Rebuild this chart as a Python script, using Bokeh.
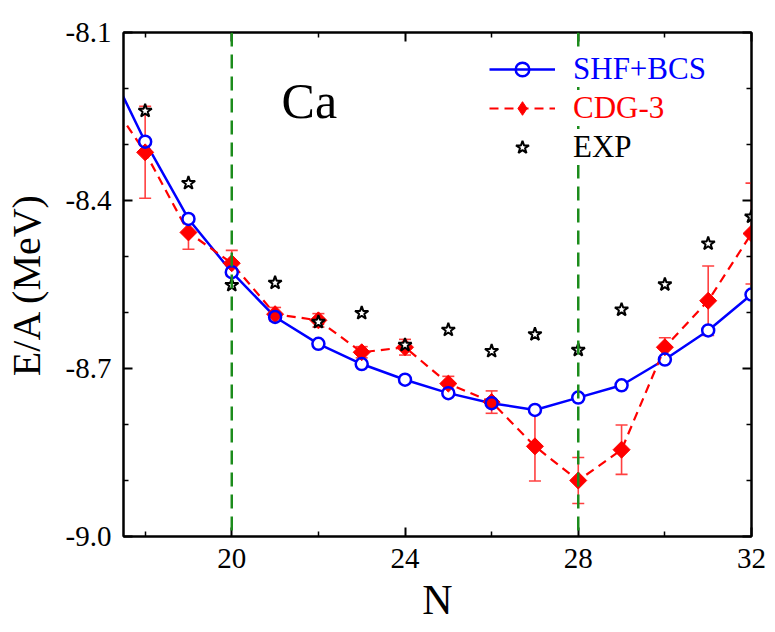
import math

from bokeh.plotting import figure
from bokeh.models import (Range1d, FixedTicker, PrintfTickFormatter, LinearAxis, Span,
                          Whisker, TeeHead, ColumnDataSource, Legend, LegendItem, Label)
from bokeh.embed import file_html
from bokeh.resources import INLINE

# Binding energy per nucleon of Ca isotopes versus neutron number N
n_calc = [17, 18, 19, 20, 21, 22, 23, 24, 25, 26, 27, 28, 29, 30, 31, 32]
shf_bcs = [-8.136, -8.295, -8.433, -8.528, -8.608, -8.656, -8.692, -8.720,
           -8.744, -8.762, -8.774, -8.752, -8.730, -8.684, -8.632, -8.568]
cdg3 = [-8.200, -8.314, -8.457, -8.512, -8.603, -8.614, -8.671, -8.662,
        -8.727, -8.760, -8.839, -8.900, -8.845, -8.662, -8.579, -8.459]
cdg3_err = [0.080, 0.082, 0.030, 0.023, 0.012, 0.012, 0.010, 0.014,
            0.013, 0.020, 0.062, 0.041, 0.044, 0.017, 0.062, 0.090]

n_exp = [18, 19, 20, 21, 22, 23, 24, 25, 26, 27, 28, 29, 30, 31, 32]
exp = [-8.240, -8.369, -8.551, -8.547, -8.617, -8.601, -8.658, -8.631,
       -8.669, -8.639, -8.667, -8.595, -8.550, -8.477, -8.429]

x_ticks = [20, 24, 28, 32]
x_minor = [18, 22, 26, 30]
y_ticks = [-9.0, -8.7, -8.4, -8.1]
y_minor = [-8.9, -8.8, -8.6, -8.5, -8.3, -8.2]
magic_n = [20, 28]

SERIF = "Liberation Serif"
BLUE = "#0000FF"
RED = "#FF0000"
ERR_RED = "#FF4040"
GREEN = "#1C8C1C"

p = figure(width=775, height=632, x_range=Range1d(17.5, 32), y_range=Range1d(-9.0, -8.1),
           output_backend="svg", toolbar_location=None,
           min_border_left=122, min_border_right=24, min_border_top=32, min_border_bottom=96)
p.xgrid.visible = False
p.ygrid.visible = False
p.outline_line_color = "black"
p.outline_line_width = 2
p.background_fill_color = "white"
p.border_fill_color = "white"

# mirrored axes on top and right carry ticks only
top_axis = LinearAxis()
right_axis = LinearAxis()
p.add_layout(top_axis, "above")
p.add_layout(right_axis, "right")

bottom_axis = p.below[0]
left_axis = p.left[0]

for ax in (bottom_axis, top_axis):
    ax.ticker = FixedTicker(ticks=x_ticks, minor_ticks=x_minor)
for ax in (left_axis, right_axis):
    ax.ticker = FixedTicker(ticks=y_ticks, minor_ticks=y_minor)
    ax.formatter = PrintfTickFormatter(format="%.1f")

for ax in (bottom_axis, top_axis, left_axis, right_axis):
    ax.axis_line_width = 2
    ax.axis_line_color = "black"
    ax.major_tick_in = 9
    ax.major_tick_out = 0
    ax.minor_tick_in = 5
    ax.minor_tick_out = 0
    ax.major_tick_line_width = 2
    ax.minor_tick_line_width = 1.5
    ax.major_label_text_font = SERIF
    ax.major_label_text_font_size = "29px"
    ax.major_label_text_color = "black"

for ax in (top_axis, right_axis):
    ax.major_label_text_color = None
    ax.major_label_text_font_size = "1px"
    ax.major_label_standoff = 0

bottom_axis.major_label_standoff = 12
bottom_axis.axis_label = "N"
bottom_axis.axis_label_text_font = SERIF
bottom_axis.axis_label_text_font_size = "42px"
bottom_axis.axis_label_text_font_style = "normal"
bottom_axis.axis_label_text_color = "black"
bottom_axis.axis_label_standoff = 6

left_axis.major_label_standoff = 12
left_axis.axis_label = "E/A (MeV)"
left_axis.axis_label_text_font = SERIF
left_axis.axis_label_text_font_size = "40px"
left_axis.axis_label_text_font_style = "normal"
left_axis.axis_label_text_color = "black"
left_axis.axis_label_standoff = 14

# shell closures N = 20 and N = 28
for n in magic_n:
    p.add_layout(Span(location=n, dimension="height", line_color=GREEN,
                      line_width=2.5, line_dash="14 8"))

# SHF+BCS
shf_line = p.line(n_calc, shf_bcs, line_color=BLUE, line_width=2.5)
p.scatter(n_calc, shf_bcs, marker="circle", size=13, fill_color="white", line_color=None)

# CDG-3 with error bars
src = ColumnDataSource(dict(
    n=n_calc, e=cdg3,
    lo=[v - d for v, d in zip(cdg3, cdg3_err)],
    hi=[v + d for v, d in zip(cdg3, cdg3_err)],
))
cdg_line = p.line("n", "e", source=src, line_color=RED, line_width=2.2, line_dash="9 6")
p.add_layout(Whisker(source=src, base="n", upper="hi", lower="lo", dimension="height",
                     line_color=ERR_RED, line_width=1.6,
                     upper_head=TeeHead(size=12, line_color=ERR_RED, line_width=1.6),
                     lower_head=TeeHead(size=12, line_color=ERR_RED, line_width=1.6)))
# plain diamond markers (covered by the rotated squares) give the legend its swatch
cdg_key = p.scatter("n", "e", source=src, marker="diamond", size=15,
                    fill_color=RED, line_color=RED, line_width=1)
p.scatter("n", "e", source=src, marker="square", angle=math.pi / 4, size=12,
          fill_color=RED, line_color=RED, line_width=1)

shf_pts = p.scatter(n_calc, shf_bcs, marker="circle", size=12, fill_color=None,
                    line_color=BLUE, line_width=2.5)

# experiment
exp_pts = p.scatter(n_exp, exp, marker="star", size=14, fill_color="white",
                    line_color="black", line_width=2)

p.add_layout(Label(x=21.15, y=-8.222, text="Ca", text_font=SERIF, text_font_size="50px",
                   text_baseline="middle", text_align="left", text_color="black"))

# three single-entry legends so each label carries its series colour
entries = [("SHF+BCS", [shf_line, shf_pts], BLUE, 449),
           ("CDG-3", [cdg_line, cdg_key], RED, 410),
           ("EXP", [exp_pts], "black", 371)]
for label, rends, color, ypos in entries:
    lg = Legend(items=[LegendItem(label=label, renderers=rends)],
                location=(366, ypos), orientation="vertical",
                label_text_font=SERIF, label_text_font_size="31px",
                label_text_color=color, glyph_width=66, glyph_height=34,
                label_standoff=18, padding=4, margin=0, spacing=0,
                border_line_color=None, background_fill_color="white",
                background_fill_alpha=1.0)
    p.add_layout(lg)

open("out.html", "w").write(file_html(p, INLINE))
